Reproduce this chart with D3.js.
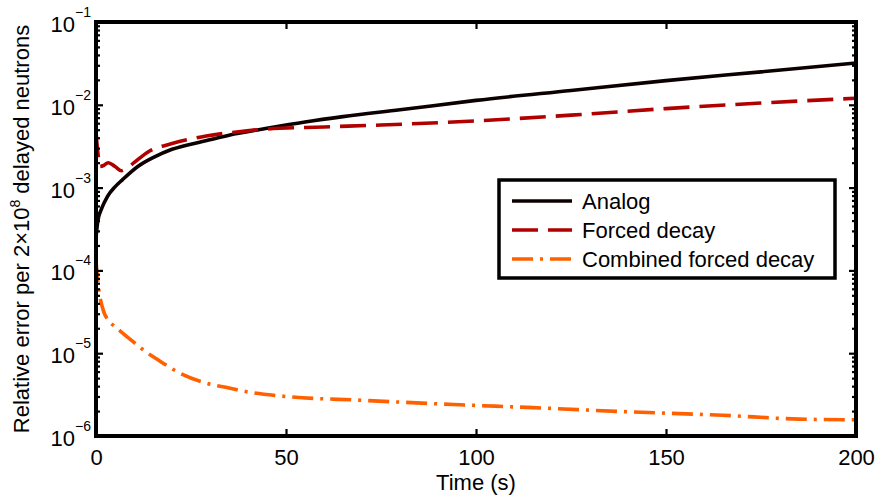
<!DOCTYPE html>
<html>
<head>
<meta charset="utf-8">
<script src="https://cdn.jsdelivr.net/npm/d3@7/dist/d3.min.js"></script>
<style>
  html, body { margin: 0; padding: 0; background: #fff; }
  svg { display: block; font-family: "Liberation Sans", Arial, Helvetica, sans-serif; }
</style>
</head>
<body>
<svg id="chart" width="878" height="498"></svg>
<script>
// ---------- data ----------
const analogT = [0, 0.5, 1.5, 3, 5, 7, 11, 15, 20, 28, 35, 45, 55, 65, 80, 100, 125, 150, 175, 200];
const analogV = [2.5e-4, 4.0e-4, 5.6e-4, 7.8e-4, 1.02e-3, 1.25e-3, 1.8e-3, 2.3e-3, 2.9e-3, 3.6e-3, 4.3e-3, 5.2e-3, 6.2e-3, 7.2e-3, 8.7e-3, 1.13e-2, 1.49e-2, 1.96e-2, 2.5e-2, 3.2e-2];

const forcedT = [0, 0.3, 0.7, 1, 2, 3.2, 5, 6.7, 8, 10, 14, 20, 29, 37, 45, 60, 75, 100, 125, 150, 175, 200];
const forcedV = [4.8e-3, 3.2e-3, 2.2e-3, 1.8e-3, 1.85e-3, 2.0e-3, 1.8e-3, 1.6e-3, 1.7e-3, 2.0e-3, 2.75e-3, 3.4e-3, 4.2e-3, 4.7e-3, 5.1e-3, 5.4e-3, 5.7e-3, 6.4e-3, 7.5e-3, 9.0e-3, 1.05e-2, 1.2e-2];

const combinedT = [0, 0.3, 0.6, 1, 2, 3.2, 5, 6.7, 10, 13, 16, 21.6, 28.6, 35, 40, 50, 70, 94, 115, 140, 165, 185, 200];
const combinedV = [1.3e-4, 9e-5, 6.5e-5, 4.9e-5, 3.2e-5, 2.5e-5, 2.1e-5, 1.8e-5, 1.35e-5, 1.05e-5, 8.5e-6, 5.9e-6, 4.4e-6, 3.8e-6, 3.4e-6, 3.0e-6, 2.7e-6, 2.4e-6, 2.2e-6, 1.96e-6, 1.78e-6, 1.6e-6, 1.57e-6];

const seriesNames = ["Analog", "Forced decay", "Combined forced decay"];
const xTicks = [0, 50, 100, 150, 200];
const yTicks = [1e-6, 1e-5, 1e-4, 1e-3, 1e-2, 1e-1];

// ---------- layout ----------
const svg = d3.select("#chart");
const X0 = 96, X1 = 856, Y0 = 22, Y1 = 436;
const x = d3.scaleLinear().domain([0, 200]).range([X0, X1]);
const y = d3.scaleLog().domain([1e-6, 1e-1]).range([Y1, Y0]);

const minorY = [];
for (let e = -6; e < -1; e++) for (let m = 2; m <= 9; m++) minorY.push(m * Math.pow(10, e));

// clip
svg.append("defs").append("clipPath").attr("id", "clip")
  .append("rect").attr("x", X0).attr("y", Y0).attr("width", X1 - X0).attr("height", Y1 - Y0);

// ---------- data lines ----------
const styles = [
  { t: analogT, v: analogV, color: "#0d0000", dash: null },
  { t: forcedT, v: forcedV, color: "#b00000", dash: "26,10" },
  { t: combinedT, v: combinedV, color: "#ff6000", dash: "21,7,3,7" }
];
const line = d3.line().x(d => x(d[0])).y(d => y(d[1])).curve(d3.curveMonotoneX);
const plot = svg.append("g").attr("clip-path", "url(#clip)");
styles.forEach(s => {
  plot.append("path")
    .datum(s.t.map((t, i) => [t, s.v[i]]))
    .attr("d", line)
    .attr("fill", "none")
    .attr("stroke", s.color)
    .attr("stroke-width", 3.6)
    .attr("stroke-dasharray", s.dash);
});

// ---------- axes ----------
const axStyle = g => {
  g.select(".domain").remove();
  g.selectAll(".tick line").attr("stroke", "#000").attr("stroke-width", 2.2);
};

// bottom
const gx = svg.append("g").attr("transform", `translate(0,${Y1})`)
  .call(d3.axisBottom(x).tickValues(xTicks).tickSize(-7).tickPadding(14).tickFormat(d3.format("d")));
axStyle(gx);
gx.selectAll(".tick text").attr("font-size", 22).attr("fill", "#000").attr("dy", 0).attr("y", 29)
  .attr("font-family", "Liberation Sans, Arial, sans-serif");
// top
const gxt = svg.append("g").attr("transform", `translate(0,${Y0})`)
  .call(d3.axisTop(x).tickValues(xTicks).tickSize(-7).tickFormat(""));
axStyle(gxt);

// left major
const gy = svg.append("g").attr("transform", `translate(${X0},0)`)
  .call(d3.axisLeft(y).tickValues(yTicks).tickSize(-7).tickPadding(6).tickFormat(""));
axStyle(gy);
gy.selectAll(".tick").each(function(d) {
  const e = Math.round(Math.log10(d));
  const t = d3.select(this).append("text")
    .attr("x", -5).attr("y", 9.5)
    .attr("text-anchor", "end")
    .attr("fill", "#000")
    .attr("font-size", 22)
    .attr("font-family", "Liberation Sans, Arial, sans-serif");
  t.append("tspan").text("10");
  t.append("tspan").attr("dy", -15).attr("font-size", 14).text("\u2212" + Math.abs(e));
});
// left minor
const gym = svg.append("g").attr("transform", `translate(${X0},0)`)
  .call(d3.axisLeft(y).tickValues(minorY).tickSize(-4).tickFormat(""));
axStyle(gym);
// right major + minor
const gyr = svg.append("g").attr("transform", `translate(${X1},0)`)
  .call(d3.axisRight(y).tickValues(yTicks).tickSize(-7).tickFormat(""));
axStyle(gyr);
const gyrm = svg.append("g").attr("transform", `translate(${X1},0)`)
  .call(d3.axisRight(y).tickValues(minorY).tickSize(-4).tickFormat(""));
axStyle(gyrm);

// frame
svg.append("rect").attr("x", X0).attr("y", Y0).attr("width", X1 - X0).attr("height", Y1 - Y0)
  .attr("fill", "none").attr("stroke", "#000").attr("stroke-width", 4);

// axis titles
svg.append("text").attr("x", (X0 + X1) / 2).attr("y", 490).attr("text-anchor", "middle")
  .attr("font-size", 22).attr("fill", "#000").text("Time (s)");
const yl = svg.append("text").attr("transform", `translate(29,${(Y0 + Y1) / 2}) rotate(-90)`)
  .attr("text-anchor", "middle").attr("font-size", 22).attr("fill", "#000");
yl.append("tspan").text("Relative error per 2\u00d710");
yl.append("tspan").attr("dy", -9).attr("font-size", 14).text("8");
yl.append("tspan").attr("dy", 9).text(" delayed neutrons");

// ---------- legend ----------
const lg = svg.append("g");
lg.append("rect").attr("x", 499).attr("y", 180).attr("width", 336).attr("height", 98)
  .attr("fill", "#fff").attr("stroke", "#000").attr("stroke-width", 3.5);
const rowsY = [201, 230, 259];
styles.forEach((s, i) => {
  lg.append("line").attr("x1", 512).attr("x2", 572).attr("y1", rowsY[i]).attr("y2", rowsY[i])
    .attr("stroke", s.color).attr("stroke-width", 3.6).attr("stroke-dasharray", s.dash);
  lg.append("text").attr("x", 582).attr("y", rowsY[i] + 7.5).attr("font-size", 22)
    .attr("fill", "#000").text(seriesNames[i]);
});
</script>
</body>
</html>
